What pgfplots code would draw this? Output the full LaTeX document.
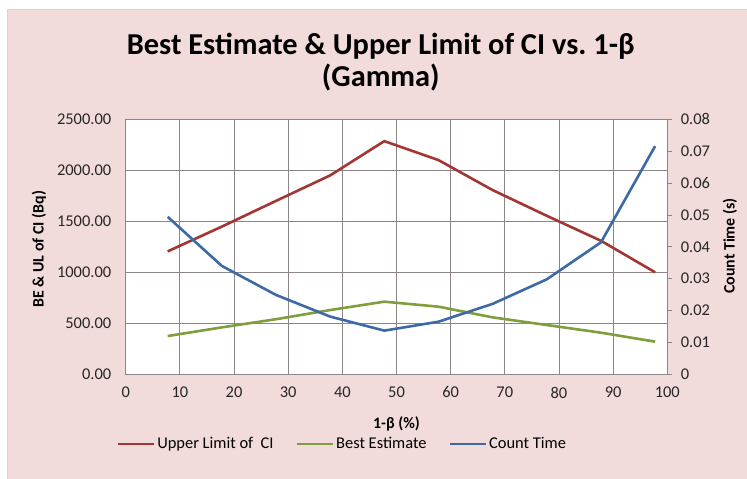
\documentclass[border=0pt]{standalone}
\usepackage{fontspec}
\setmainfont{Carlito}
\usepackage{pgfplots}
\pgfplotsset{compat=1.18}
\definecolor{bgpink}{HTML}{F2DCDB}
\definecolor{bordergray}{HTML}{D6D6CC}
\definecolor{gridgray}{HTML}{8E8585}
\definecolor{ticktext}{HTML}{262626}
\definecolor{ulred}{HTML}{A33633}
\definecolor{begreen}{HTML}{7F9F3F}
\definecolor{ctblue}{HTML}{3D6AA6}
\begin{document}
\begin{tikzpicture}
\path[use as bounding box] (0bp,0bp) rectangle (747bp,479bp);
\fill[white] (0bp,0bp) rectangle (747bp,479bp);
\draw[fill=bgpink, draw=bordergray, line width=1.4bp] (7.3bp,-5bp) rectangle (760bp,469.7bp);
\pgfplotsset{
  every axis/.append style={
    scale only axis, width=541.6bp, height=255bp,
    at={(125.7bp,104.7bp)}, anchor=south west,
    xmin=0, xmax=100,
    /pgf/number format/assume math mode=true,
    scaled y ticks=false,
    tick label style={font=\fontsize{16.5}{19}\selectfont, color=ticktext},
  }
}
\begin{axis}[
  ymin=0, ymax=2500,
  xtick={0,10,...,100},
  ytick={0,500,1000,1500,2000,2500},
  grid=major,
  major grid style={color=gridgray, line width=0.8bp},
  axis line style={color=gridgray, line width=0.8bp},
  tick style={draw=none},
  axis background/.style={fill=white},
  y tick label style={xshift=-11bp, /pgf/number format/fixed, /pgf/number format/fixed zerofill, /pgf/number format/precision=2, /pgf/number format/1000 sep={}},
  x tick label style={yshift=-9bp},
  title={Best Estimate \& Upper Limit of CI vs.\ 1-β\\(Gamma)},
  title style={font=\bfseries\fontsize{30.5}{33}\selectfont, align=center, at={(axis description cs:0.471,1.201)}, anchor=center},
  xlabel={1-β (\%)},
  every axis x label/.style={at={(axis description cs:0.5,-0.195)}, anchor=center, font=\bfseries\fontsize{16}{19}\selectfont},
  ylabel={BE \& UL of CI (Bq)},
  every axis y label/.style={at={(axis description cs:-0.160,0.49)}, anchor=center, rotate=90, font=\bfseries\fontsize{16}{19}\selectfont},
  legend columns=3,
  legend style={at={(axis description cs:0.40,-0.273)}, anchor=center, draw=none, fill=none,
    font=\fontsize{16.5}{19}\selectfont,
    /tikz/every even column/.append style={column sep=20bp},
    nodes={inner xsep=2bp}},
  legend image code/.code={\draw[#1] (0bp,0bp) -- (36bp,0bp);},
]
\addplot[color=ulred, line width=2.6bp] coordinates {
  (7.75,1205) (17.75,1448) (27.75,1700) (37.75,1950) (47.75,2286)
  (57.75,2100) (67.75,1806) (77.75,1554) (87.75,1309) (97.75,1000)};
\addlegendentry{Upper Limit of\ \ CI}
\addplot[color=begreen, line width=2.6bp] coordinates {
  (7.75,375) (17.75,460) (27.75,540) (37.75,630) (47.75,712)
  (57.75,663) (67.75,558) (77.75,483) (87.75,408) (97.75,320)};
\addlegendentry{Best Estimate}
\addlegendimage{color=ctblue, line width=2.6bp}
\addlegendentry{Count Time}
\end{axis}
\begin{axis}[
  ymin=0, ymax=0.08,
  axis y line*=right, axis x line=none,
  axis line style={color=gridgray, line width=0.8bp},
  ytick={0,0.01,0.02,0.03,0.04,0.05,0.06,0.07,0.08},
  yticklabels={0,0.01,0.02,0.03,0.04,0.05,0.06,0.07,0.08},
  tick align=outside, major tick length=5bp,
  ytick style={draw=gridgray, line width=0.8bp},
  y tick label style={xshift=5bp},
  ylabel={Count Time (s)},
  every axis y label/.style={at={(axis description cs:1.1158,0.503)}, anchor=center, rotate=90, font=\bfseries\fontsize{16}{19}\selectfont},
]
\addplot[color=ctblue, line width=2.6bp] coordinates {
  (7.75,0.0494) (17.75,0.0340) (27.75,0.0249) (37.75,0.0181) (47.75,0.0137)
  (57.75,0.0165) (67.75,0.0221) (77.75,0.0298) (87.75,0.0414) (97.75,0.0716)};
\end{axis}
\end{tikzpicture}
\end{document}
